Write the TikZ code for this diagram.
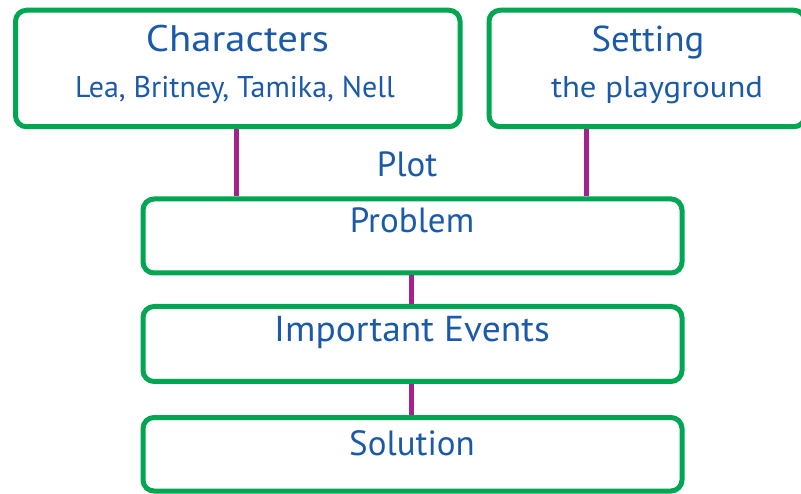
\documentclass[tikz,border=0pt]{standalone}
\usepackage{fontspec}
\setmainfont{PT Sans}
\definecolor{boxgreen}{HTML}{00A651}
\definecolor{txtblue}{HTML}{1B5AA8}
\definecolor{linkpurple}{HTML}{A3228E}
\begin{document}
\begin{tikzpicture}[x=1pt,y=-1pt,
  box/.style={draw=boxgreen,line width=5pt,rounded corners=11pt,inner sep=0pt,outer sep=0pt},
  title/.style={text=txtblue,anchor=base,inner sep=0pt,font=\fontsize{35}{40}\selectfont},
  sub/.style={text=txtblue,anchor=base,inner sep=0pt,font=\fontsize{30}{34}\selectfont},
  conn/.style={draw=linkpurple,line width=5pt,shorten <=2.5pt,shorten >=2.5pt}]
\useasboundingbox (0,0) rectangle (801,494);
% boxes
\node[box,minimum width=444.5pt,minimum height=116.5pt] (char) at (237.75,68.5) {};
\node[box,minimum width=316pt,minimum height=116.5pt] (sett) at (647,68.5) {};
\node[box,minimum width=539pt,minimum height=74pt] (prob) at (412.5,236) {};
\node[box,minimum width=539pt,minimum height=75pt] (even) at (412.5,344) {};
\node[box,minimum width=539pt,minimum height=73.5pt] (solu) at (412.5,454.25) {};
% connector columns
\coordinate (c1) at (236,0);
\coordinate (c2) at (586,0);
\coordinate (c3) at (411,0);
\draw[conn] (char.south -| c1) -- (prob.north -| c1);
\draw[conn] (sett.south -| c2) -- (prob.north -| c2);
\draw[conn] (prob.south -| c3) -- (even.north -| c3);
\draw[conn] (even.south -| c3) -- (solu.north -| c3);
% texts
\node[title,font=\fontsize{37}{42}\selectfont] (tchar) at (237.5,52) {\scalebox{1.1}[1]{Characters}};
\node[sub] (schar) at (235,98) {Lea, Britney, Tamika, Nell};
\node[title,font=\fontsize{36}{41}\selectfont] (tsett) at (648,52) {\scalebox{1.02}[1]{Setting}};
\node[sub] (ssett) at (657,98) {\scalebox{1.09}[1]{the playground}};
\node[title] (plot) at (407,177) {Plot};
\node[title] (tprob) at (412,233) {Problem};
\node[title,font=\fontsize{36}{41}\selectfont] (teven) at (412,341.5) {\scalebox{1.04}[1]{Important Events}};
\node[title] (tsolu) at (412,455) {Solution};
\end{tikzpicture}
\end{document}
